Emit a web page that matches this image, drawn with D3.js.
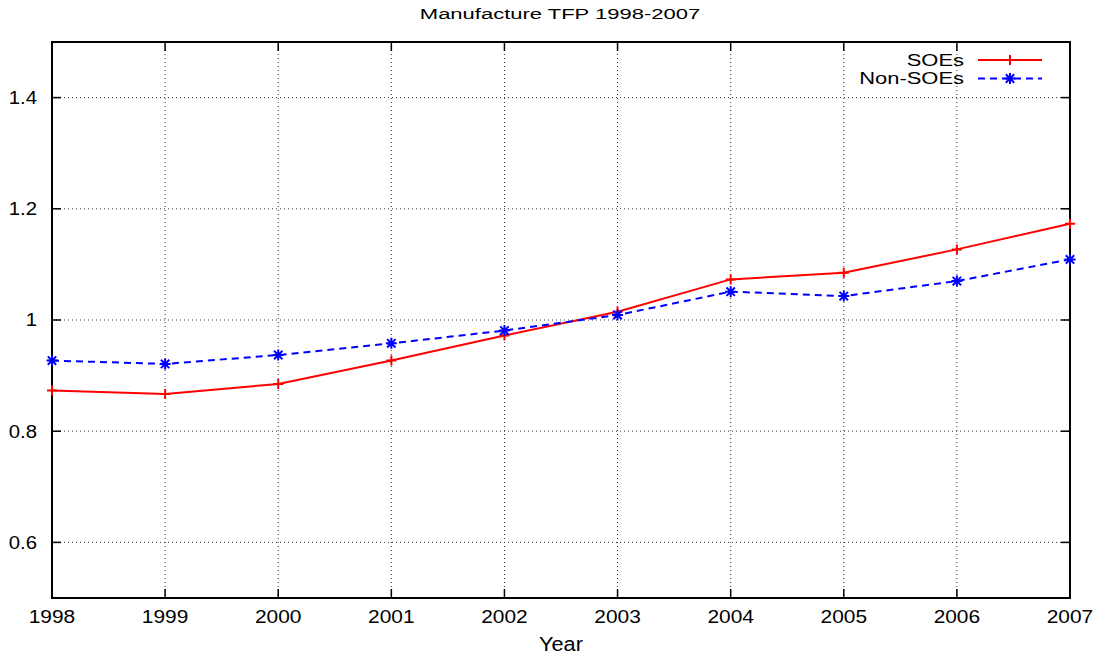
<!DOCTYPE html>
<html>
<head>
<meta charset="utf-8">
<script src="https://cdn.jsdelivr.net/npm/d3@7"></script>
<style>
  body { margin: 0; background: #fff; }
  text { font-family: "Liberation Sans", Arial, sans-serif; fill: #000; }
</style>
</head>
<body>
<svg id="chart" width="1099" height="658"></svg>
<script>
// data
var years = [1998, 1999, 2000, 2001, 2002, 2003, 2004, 2005, 2006, 2007];
var soes = [0.873, 0.867, 0.885, 0.927, 0.972, 1.015, 1.073, 1.085, 1.127, 1.173];
var nonSoes = [0.927, 0.921, 0.937, 0.958, 0.981, 1.009, 1.051, 1.043, 1.070, 1.109];
var yTicks = [0.6, 0.8, 1, 1.2, 1.4];
var seriesNames = ["SOEs", "Non-SOEs"];

var svg = d3.select("#chart");
var plotLeft = 52, plotRight = 1070, plotTop = 42, plotBottom = 598;

var x = d3.scaleLinear().domain([1998, 2007]).range([plotLeft, plotRight]);
var y = d3.scaleLinear().domain([0.5, 1.5]).range([plotBottom, plotTop]);

// stretched text like the original (resized image)
function stretchText(sel, sx) {
  sel.each(function () {
    var t = d3.select(this);
    var tx = +t.attr("x"), ty = +t.attr("y");
    t.attr("transform", "translate(" + tx + "," + ty + ") scale(" + sx + ",1) translate(" + (-tx) + "," + (-ty) + ")");
  });
}

// grid
svg.append("g").selectAll("line")
  .data(years.slice(1, -1))
  .enter().append("line")
  .attr("x1", function (d) { return x(d); })
  .attr("x2", function (d) { return x(d); })
  .attr("y1", plotTop).attr("y2", plotBottom)
  .attr("stroke", "#333").attr("stroke-width", 1)
  .attr("stroke-dasharray", "1,3");

svg.append("g").selectAll("line")
  .data(yTicks)
  .enter().append("line")
  .attr("x1", plotLeft).attr("x2", plotRight)
  .attr("y1", function (d) { return y(d); })
  .attr("y2", function (d) { return y(d); })
  .attr("stroke", "#333").attr("stroke-width", 1)
  .attr("stroke-dasharray", "1,3");

// ticks (inward, mirrored)
var tickLen = 9;
var tg = svg.append("g").attr("stroke", "#000").attr("stroke-width", 1.5);
years.forEach(function (d) {
  tg.append("line").attr("x1", x(d)).attr("x2", x(d)).attr("y1", plotBottom).attr("y2", plotBottom - tickLen);
  tg.append("line").attr("x1", x(d)).attr("x2", x(d)).attr("y1", plotTop).attr("y2", plotTop + tickLen);
});
yTicks.forEach(function (d) {
  tg.append("line").attr("x1", plotLeft).attr("x2", plotLeft + tickLen).attr("y1", y(d)).attr("y2", y(d));
  tg.append("line").attr("x1", plotRight).attr("x2", plotRight - tickLen).attr("y1", y(d)).attr("y2", y(d));
});

// frame
svg.append("rect")
  .attr("x", plotLeft).attr("y", plotTop)
  .attr("width", plotRight - plotLeft).attr("height", plotBottom - plotTop)
  .attr("fill", "none").attr("stroke", "#000").attr("stroke-width", 2);

// tick labels
svg.append("g").selectAll("text")
  .data(years)
  .enter().append("text")
  .attr("x", function (d) { return x(d); })
  .attr("y", 623)
  .attr("text-anchor", "middle")
  .style("font-size", "19px")
  .text(function (d) { return d; })
  .call(stretchText, 1.1);

svg.append("g").selectAll("text")
  .data(yTicks)
  .enter().append("text")
  .attr("x", 37)
  .attr("y", function (d) { return y(d); })
  .attr("dy", "0.35em")
  .attr("text-anchor", "end")
  .style("font-size", "18.5px")
  .text(function (d) { return d; })
  .call(stretchText, 1.1);

// title and axis label
svg.append("text")
  .attr("x", 560).attr("y", 19.5)
  .attr("text-anchor", "middle")
  .style("font-size", "15.5px")
  .text("Manufacture TFP 1998-2007")
  .call(stretchText, 1.42);

svg.append("text")
  .attr("x", 561).attr("y", 651.5)
  .attr("text-anchor", "middle")
  .style("font-size", "20.5px")
  .text("Year")
  .call(stretchText, 1.06);

// markers
function plus(g, cx, cy, color) {
  var s = 5;
  g.append("path")
    .attr("d", "M" + (cx - s) + "," + cy + "H" + (cx + s) + "M" + cx + "," + (cy - s) + "V" + (cy + s))
    .attr("stroke", color).attr("stroke-width", 2).attr("fill", "none");
}
function star(g, cx, cy, color) {
  var s = 5.5, d = 4.2;
  g.append("path")
    .attr("d", "M" + (cx - s) + "," + cy + "H" + (cx + s) + "M" + cx + "," + (cy - s) + "V" + (cy + s) +
      "M" + (cx - d) + "," + (cy - d) + "L" + (cx + d) + "," + (cy + d) +
      "M" + (cx - d) + "," + (cy + d) + "L" + (cx + d) + "," + (cy - d))
    .attr("stroke", color).attr("stroke-width", 2).attr("fill", "none");
}

var line = d3.line()
  .x(function (d, i) { return x(years[i]); })
  .y(function (d) { return y(d); });

var series = [
  { name: seriesNames[0], values: soes, color: "#ff0000", dash: null, marker: plus },
  { name: seriesNames[1], values: nonSoes, color: "#0000ff", dash: "7,5", marker: star }
];

series.forEach(function (s) {
  svg.append("path")
    .datum(s.values)
    .attr("d", line)
    .attr("fill", "none")
    .attr("stroke", s.color)
    .attr("stroke-width", 2)
    .attr("stroke-dasharray", s.dash);
  var g = svg.append("g");
  s.values.forEach(function (v, i) {
    s.marker(g, x(years[i]), y(v), s.color);
  });
});

// legend
series.forEach(function (s, i) {
  var ly = 60 + i * 18.5;
  svg.append("text")
    .attr("x", 964).attr("y", ly)
    .attr("dy", "0.35em")
    .attr("text-anchor", "end")
    .style("font-size", "17px")
    .text(s.name)
    .call(stretchText, 1.29);
  svg.append("line")
    .attr("x1", 978).attr("x2", 1042)
    .attr("y1", ly).attr("y2", ly)
    .attr("stroke", s.color).attr("stroke-width", 2)
    .attr("stroke-dasharray", s.dash);
  var g = svg.append("g");
  s.marker(g, 1010, ly, s.color);
});
</script>
</body>
</html>
